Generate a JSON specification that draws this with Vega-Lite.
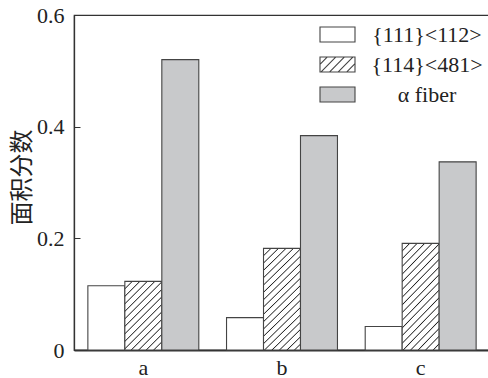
{
  "$schema": "https://vega.github.io/schema/vega-lite/v6.json",
  "width": 416,
  "height": 335,
  "autosize": {"type": "none"},
  "padding": {"left": 74, "top": 15, "right": 0, "bottom": 28},
  "background": "white",
  "config": {
    "view": {"stroke": "#333", "strokeWidth": 1.2},
    "axis": {
      "labelFont": "Liberation Serif",
      "labelFontSize": 22,
      "labelColor": "#222",
      "domainColor": "#333",
      "tickColor": "#333",
      "grid": false
    },
    "legend": {"labelFont": "Liberation Serif", "labelFontSize": 22}
  },
  "data": {
    "values": [
      {"cat": "a", "series": "{111}<112>", "value": 0.115},
      {"cat": "a", "series": "{114}<481>", "value": 0.123},
      {"cat": "a", "series": "α fiber", "value": 0.52},
      {"cat": "b", "series": "{111}<112>", "value": 0.058},
      {"cat": "b", "series": "{114}<481>", "value": 0.182},
      {"cat": "b", "series": "α fiber", "value": 0.384},
      {"cat": "c", "series": "{111}<112>", "value": 0.042},
      {"cat": "c", "series": "{114}<481>", "value": 0.191},
      {"cat": "c", "series": "α fiber", "value": 0.337}
    ]
  },
  "mark": {"type": "bar", "stroke": "#444", "strokeWidth": 1.1},
  "encoding": {
    "x": {
      "field": "cat",
      "type": "nominal",
      "scale": {"paddingInner": 0.2, "paddingOuter": 0.1},
      "axis": {"title": null, "labelAngle": 0, "tickSize": -5, "labelPadding": 12, "domainWidth": 2}
    },
    "xOffset": {
      "field": "series",
      "type": "nominal",
      "scale": {"domain": ["{111}<112>", "{114}<481>", "α fiber"], "paddingInner": 0, "paddingOuter": 0}
    },
    "y": {
      "field": "value",
      "type": "quantitative",
      "scale": {"domain": [0, 0.6]},
      "axis": {
        "values": [0, 0.2, 0.4, 0.6],
        "labelExpr": "datum.value === 0 ? '0' : format(datum.value, '.1f')",
        "tickSize": -6,
        "labelPadding": 16,
        "domainWidth": 1.3,
        "title": "面积分数",
        "titleFont": "Noto Sans CJK SC",
        "titleFontSize": 24,
        "titleFontWeight": "normal",
        "titleColor": "#222",
        "titlePadding": 2,
        "titleY": 162
      }
    },
    "fill": {
      "field": "series",
      "type": "nominal",
      "scale": {"domain": ["{111}<112>", "{114}<481>", "α fiber"], "range": ["#ffffff", "#ffffff", "#c8c9cb"]},
      "condition": [
        {
          "test": "datum.series === '{114}<481>' && datum.cat === 'a'",
          "value": {
            "gradient": "linear", "x1": 0, "y1": 0, "x2": 0.642, "y2": 1.193,
            "stops": [
              {"offset": 0, "color": "#222"}, {"offset": 0.0107, "color": "#fff"}, {"offset": 0.0604, "color": "#fff"},
              {"offset": 0.071, "color": "#222"}, {"offset": 0.0817, "color": "#fff"}, {"offset": 0.1314, "color": "#fff"},
              {"offset": 0.142, "color": "#222"}, {"offset": 0.1527, "color": "#fff"}, {"offset": 0.2024, "color": "#fff"},
              {"offset": 0.213, "color": "#222"}, {"offset": 0.2237, "color": "#fff"}, {"offset": 0.2734, "color": "#fff"},
              {"offset": 0.284, "color": "#222"}, {"offset": 0.2947, "color": "#fff"}, {"offset": 0.3444, "color": "#fff"},
              {"offset": 0.355, "color": "#222"}, {"offset": 0.3657, "color": "#fff"}, {"offset": 0.4154, "color": "#fff"},
              {"offset": 0.426, "color": "#222"}, {"offset": 0.4367, "color": "#fff"}, {"offset": 0.4864, "color": "#fff"},
              {"offset": 0.497, "color": "#222"}, {"offset": 0.5077, "color": "#fff"}, {"offset": 0.5574, "color": "#fff"},
              {"offset": 0.568, "color": "#222"}, {"offset": 0.5787, "color": "#fff"}, {"offset": 0.6284, "color": "#fff"},
              {"offset": 0.639, "color": "#222"}, {"offset": 0.6497, "color": "#fff"}, {"offset": 0.6994, "color": "#fff"},
              {"offset": 0.71, "color": "#222"}, {"offset": 0.7207, "color": "#fff"}, {"offset": 0.7704, "color": "#fff"},
              {"offset": 0.781, "color": "#222"}, {"offset": 0.7917, "color": "#fff"}, {"offset": 0.8414, "color": "#fff"},
              {"offset": 0.852, "color": "#222"}, {"offset": 0.8627, "color": "#fff"}, {"offset": 0.9124, "color": "#fff"},
              {"offset": 0.923, "color": "#222"}, {"offset": 0.9337, "color": "#fff"}, {"offset": 0.9834, "color": "#fff"},
              {"offset": 0.994, "color": "#222"}, {"offset": 1, "color": "#fff"}
            ]
          }
        },
        {
          "test": "datum.series === '{114}<481>'",
          "value": {
            "gradient": "linear", "x1": 0, "y1": 0, "x2": 0.428, "y2": 1.203,
            "stops": [
              {"offset": 0, "color": "#222"}, {"offset": 0.008, "color": "#fff"}, {"offset": 0.0452, "color": "#fff"},
              {"offset": 0.0532, "color": "#222"}, {"offset": 0.0612, "color": "#fff"}, {"offset": 0.0984, "color": "#fff"},
              {"offset": 0.1064, "color": "#222"}, {"offset": 0.1144, "color": "#fff"}, {"offset": 0.1516, "color": "#fff"},
              {"offset": 0.1596, "color": "#222"}, {"offset": 0.1676, "color": "#fff"}, {"offset": 0.2048, "color": "#fff"},
              {"offset": 0.2128, "color": "#222"}, {"offset": 0.2208, "color": "#fff"}, {"offset": 0.258, "color": "#fff"},
              {"offset": 0.266, "color": "#222"}, {"offset": 0.274, "color": "#fff"}, {"offset": 0.3112, "color": "#fff"},
              {"offset": 0.3192, "color": "#222"}, {"offset": 0.3272, "color": "#fff"}, {"offset": 0.3644, "color": "#fff"},
              {"offset": 0.3724, "color": "#222"}, {"offset": 0.3804, "color": "#fff"}, {"offset": 0.4176, "color": "#fff"},
              {"offset": 0.4256, "color": "#222"}, {"offset": 0.4336, "color": "#fff"}, {"offset": 0.4708, "color": "#fff"},
              {"offset": 0.4788, "color": "#222"}, {"offset": 0.4868, "color": "#fff"}, {"offset": 0.524, "color": "#fff"},
              {"offset": 0.532, "color": "#222"}, {"offset": 0.54, "color": "#fff"}, {"offset": 0.5772, "color": "#fff"},
              {"offset": 0.5852, "color": "#222"}, {"offset": 0.5932, "color": "#fff"}, {"offset": 0.6304, "color": "#fff"},
              {"offset": 0.6384, "color": "#222"}, {"offset": 0.6464, "color": "#fff"}, {"offset": 0.6836, "color": "#fff"},
              {"offset": 0.6916, "color": "#222"}, {"offset": 0.6996, "color": "#fff"}, {"offset": 0.7368, "color": "#fff"},
              {"offset": 0.7448, "color": "#222"}, {"offset": 0.7528, "color": "#fff"}, {"offset": 0.79, "color": "#fff"},
              {"offset": 0.798, "color": "#222"}, {"offset": 0.806, "color": "#fff"}, {"offset": 0.8432, "color": "#fff"},
              {"offset": 0.8512, "color": "#222"}, {"offset": 0.8592, "color": "#fff"}, {"offset": 0.8964, "color": "#fff"},
              {"offset": 0.9044, "color": "#222"}, {"offset": 0.9124, "color": "#fff"}, {"offset": 0.9496, "color": "#fff"},
              {"offset": 0.9576, "color": "#222"}, {"offset": 0.9656, "color": "#fff"}, {"offset": 1, "color": "#fff"}
            ]
          }
        }
      ],
      "legend": {
        "orient": "none",
        "legendX": 245,
        "legendY": 1,
        "title": null,
        "symbolType": "M-1,-0.43H1V0.43H-1Z",
        "symbolSize": 1225,
        "symbolStrokeColor": "#444",
        "symbolStrokeWidth": 1.1,
        "labelFont": "Liberation Serif",
        "labelFontSize": 22,
        "labelColor": "#222",
        "labelAlign": "center",
        "labelOffset": 71,
        "rowPadding": -13,
        "encode": {
          "symbols": {
            "update": {
              "stroke": {"value": "#444"},
              "strokeWidth": {"value": 1.1},
              "opacity": {"value": 1},
              "shape": {"signal": "datum.value === '{114}<481>' ? 'M-1,-0.43H1V0.43H-1Z M-1,-0.01L-0.58,-0.43 M-0.95,0.43L-0.09,-0.43 M-0.46,0.43L0.4,-0.43 M0.03,0.43L0.89,-0.43 M0.52,0.43L1,-0.05' : 'M-1,-0.43H1V0.43H-1Z'"}
            }
          }
        }
      }
    }
  }
}
